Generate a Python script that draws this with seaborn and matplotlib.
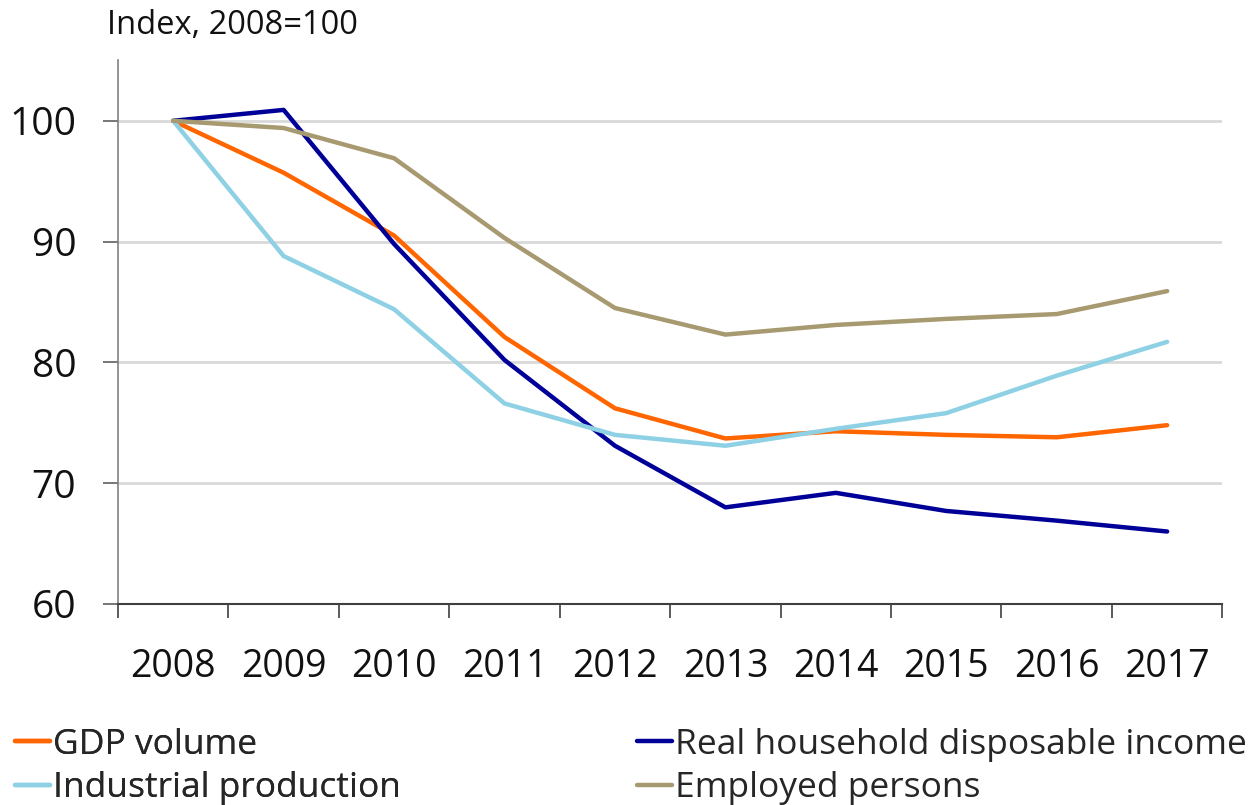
import matplotlib
matplotlib.use("Agg")
import matplotlib.pyplot as plt
import seaborn as sns
import pandas as pd
from matplotlib.ticker import FixedLocator
from matplotlib.lines import Line2D

years = ["2008", "2009", "2010", "2011", "2012", "2013", "2014", "2015", "2016", "2017"]
gdp_volume = [100, 95.7, 90.5, 82.1, 76.2, 73.7, 74.3, 74.0, 73.8, 74.8]
real_income = [100, 100.9, 89.8, 80.2, 73.1, 68.0, 69.2, 67.7, 66.9, 66.0]
industrial = [100, 88.8, 84.4, 76.6, 74.0, 73.1, 74.5, 75.8, 78.9, 81.7]
employed = [100, 99.4, 96.9, 90.3, 84.5, 82.3, 83.1, 83.6, 84.0, 85.9]
series_names = ["GDP volume", "Real household disposable income",
                "Industrial production", "Employed persons"]
colors = ["#FF6600", "#000099", "#8ED0E4", "#A89A70"]

rows = []
for name, vals in zip(series_names, [gdp_volume, real_income, industrial, employed]):
    for y, v in zip(years, vals):
        rows.append({"Year": y, "Value": v, "Series": name})
df = pd.DataFrame(rows)

sns.set_theme(style="white")
plt.rcParams["font.family"] = ["Open Sans", "DejaVu Sans"]

fig = plt.figure(figsize=(12.55, 8.05), dpi=100)
ax = fig.add_axes([0.094, 0.2497, 0.880, 0.6753])

sns.lineplot(data=df, x="Year", y="Value", hue="Series", palette=colors,
             hue_order=series_names, linewidth=3.2, ax=ax, legend=False,
             sort=False)

ax.set_xlim(-0.5, len(years) - 0.5)
ax.set_ylim(60, 105)
ax.set_yticks([60, 70, 80, 90, 100])
ax.set_yticklabels(["60", "70", "80", "90", "100"], fontsize=28, color="#111111")
for yv in [70, 80, 90, 100]:
    ax.axhline(yv, color="#D9D9D9", linewidth=2, zorder=0)

ax.set_xticks(range(len(years)))
ax.set_xticklabels(years, fontsize=27, color="#111111")
ax.tick_params(axis="x", which="major", length=0, pad=32)
ax.xaxis.set_minor_locator(FixedLocator([i - 0.5 for i in range(len(years) + 1)]))
ax.tick_params(axis="x", which="minor", length=10, width=1.2, color="#404040",
               direction="out", bottom=True)
ax.tick_params(axis="y", which="major", length=11, width=1.2, color="#606060",
               direction="out", left=True, pad=19)

ax.set_xlabel("")
ax.set_ylabel("")
for s in ["top", "right"]:
    ax.spines[s].set_visible(False)
ax.spines["left"].set_color("#808080")
ax.spines["left"].set_linewidth(1.2)
ax.spines["bottom"].set_color("#404040")
ax.spines["bottom"].set_linewidth(1.5)

fig.text(107 / 1255, 1 - 25 / 805, "Index, 2008=100", fontsize=23.5,
         va="center", ha="left", color="#111111")

handles = [Line2D([0], [0], color=c, linewidth=3.2) for c in colors]
leg_kw = dict(loc="lower left", ncol=1, frameon=False, fontsize=25.5,
              handlelength=1.0, handletextpad=0.08, labelspacing=0.26,
              borderpad=0, borderaxespad=0)
leg1 = fig.legend([handles[0], handles[2]], [series_names[0], series_names[2]],
                  bbox_to_anchor=(15 / 1255, 0.0), **leg_kw)
fig.add_artist(leg1)
leg2 = fig.legend([handles[1], handles[3]], [series_names[1], series_names[3]],
                  bbox_to_anchor=(637 / 1255, 0.0), **leg_kw)

fig.savefig("out.png", dpi=100)
